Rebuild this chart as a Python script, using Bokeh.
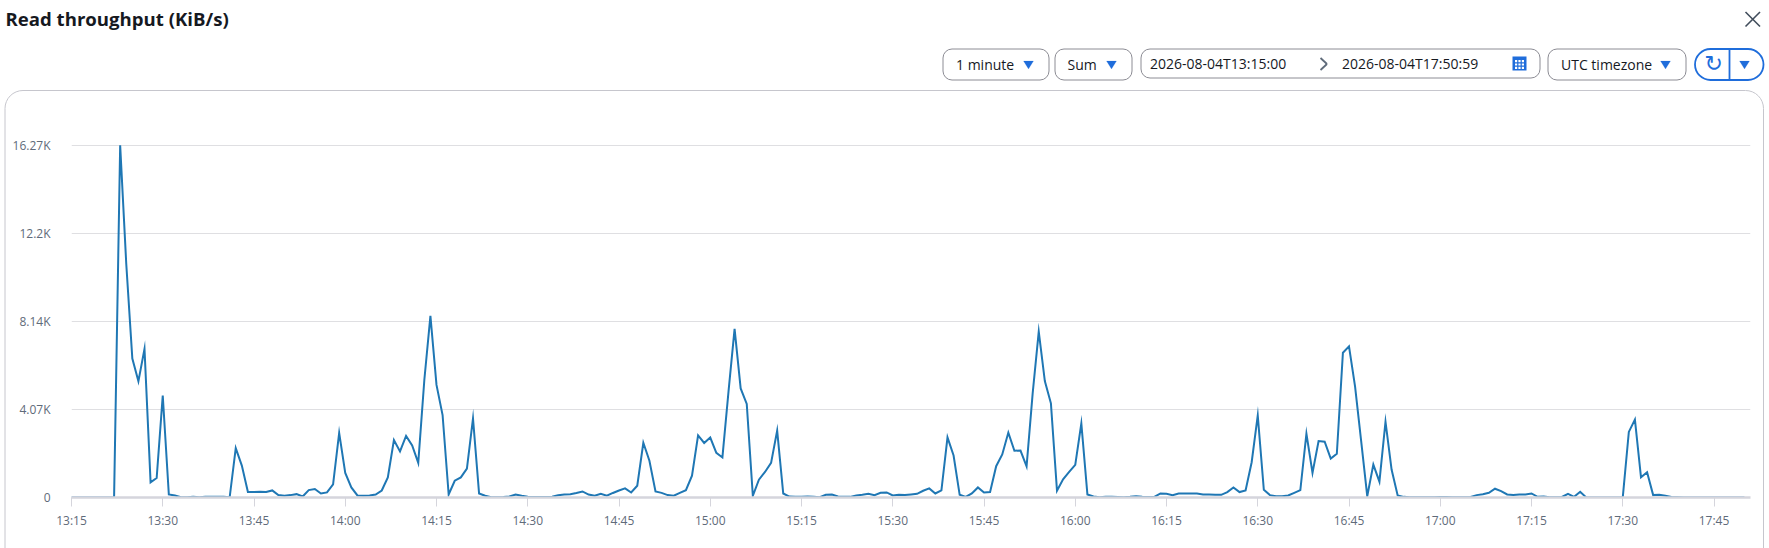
import pandas as pd
from bokeh.plotting import figure
from bokeh.embed import file_html
from bokeh.resources import INLINE
from bokeh.models import (Label, BoxAnnotation, PolyAnnotation, Arrow, FixedTicker,
                          DatetimeTickFormatter, Range1d)

TITLE = "Read throughput (KiB/s)"
START = "2026-08-04 13:15:00"
RANGE_FROM = "2026-08-04T13:15:00"
RANGE_TO = "2026-08-04T17:50:59"
Y_TICKS = [0, 4070, 8140, 12200, 16270]
Y_LABELS = ["0", "4.07K", "8.14K", "12.2K", "16.27K"]
THROUGHPUT = [
    0, 0, 0, 0, 0, 0, 0, 0, 16270, 10800, 6420, 5370, 6865, 700, 900, 4710,
    140, 90, 15, 10, 30, 10, 30, 30, 35, 30, 10, 2280, 1475, 250, 250, 265,
    250, 325, 110, 80, 110, 155, 45, 340, 390, 185, 235, 605, 2985, 1135, 465, 95,
    80, 95, 140, 325, 930, 2655, 2130, 2845, 2410, 1600, 5430, 8390, 5200, 3810, 140, 775,
    930, 1335, 3655, 185, 80, 15, 15, 20, 50, 140, 80, 40, 25, 25, 25, 40,
    105, 135, 150, 210, 280, 135, 80, 170, 80, 210, 325, 420, 230, 545, 2530, 1700,
    280, 215, 110, 80, 215, 340, 1010, 2870, 2520, 2770, 2065, 1850, 4890, 7790, 5040, 4320,
    80, 825, 1180, 1600, 3090, 185, 45, 30, 30, 45, 30, 15, 125, 140, 45, 30,
    30, 95, 125, 170, 110, 215, 235, 95, 125, 110, 140, 170, 310, 420, 185, 325,
    2780, 1940, 125, 30, 185, 465, 235, 250, 1445, 1990, 3000, 2160, 2170, 1440, 4810, 7660,
    5380, 4350, 310, 840, 1180, 1510, 3420, 140, 45, 15, 30, 30, 25, 15, 30, 60,
    30, 25, 25, 185, 170, 110, 185, 185, 185, 185, 140, 140, 125, 125, 250, 465,
    250, 325, 1630, 3790, 355, 110, 60, 60, 95, 215, 340, 2950, 1135, 2610, 2580, 1800,
    2020, 6690, 6985, 5120, 2600, 60, 1520, 730, 3500, 1290, 95, 30, 15, 15, 15, 15,
    10, 25, 25, 10, 10, 10, 25, 110, 155, 215, 405, 295, 140, 110, 140, 140,
    185, 30, 45, 15, 10, 25, 170, 30, 265, 0, 0, 0, 0, 0, 0, 0,
    3030, 3600, 930, 1165, 110, 125, 80, 25, 10, 0, 0, 0, 0, 0, 0, 0,
    0, 0, 0, 0,
]

times = pd.date_range(START, periods=len(THROUGHPUT), freq="1min")
t0 = times[0]
x_start = t0
x_end = t0 + pd.Timedelta(minutes=276)
tick_times = pd.date_range(START, periods=19, freq="15min")

W, H = 1769, 548
FRAME_L, FRAME_R, FRAME_T, FRAME_B = 71, 1750, 140, 497

y_top = (FRAME_B - FRAME_T) / 88.1 * 4070

# Page furniture: a figure whose frame is the whole canvas.
ui = figure(width=W, height=H, output_backend="svg", toolbar_location=None,
            x_range=Range1d(0, W), y_range=Range1d(H, 0),
            x_axis_location=None, y_axis_location=None, min_border=0,
            outline_line_color=None, margin=0)
ui.grid.visible = False

# The chart, laid over it with a transparent background.
p = figure(width=W, height=H, output_backend="svg", toolbar_location=None,
           x_axis_type="datetime",
           x_range=Range1d(x_start, x_end), y_range=Range1d(0, y_top),
           min_border_left=FRAME_L, min_border_right=W - FRAME_R,
           min_border_top=FRAME_T, min_border_bottom=H - FRAME_B,
           outline_line_color=None, background_fill_color=None, border_fill_color=None,
           margin=(-H, 0, 0, 0))

p.line(times, THROUGHPUT, line_color="#1f77b4", line_width=2.0, line_join="miter")

p.xgrid.visible = False
p.ygrid.grid_line_color = "#dfdfe2"
p.ygrid.grid_line_width = 1.2
p.ygrid.ticker = FixedTicker(ticks=Y_TICKS)

p.yaxis.ticker = FixedTicker(ticks=Y_TICKS)
p.yaxis.major_label_overrides = dict(zip(Y_TICKS, Y_LABELS))
p.yaxis.axis_line_color = None
p.yaxis.major_tick_line_color = None
p.yaxis.minor_tick_line_color = None
p.yaxis.major_label_standoff = 15
p.yaxis.major_label_text_font = "Open Sans"
p.yaxis.major_label_text_font_size = "12px"
p.yaxis.major_label_text_color = "#5f6b7a"

p.xaxis.ticker = FixedTicker(ticks=[t.value / 1e6 for t in tick_times])
p.xaxis.formatter = DatetimeTickFormatter(minutes="%H:%M", hours="%H:%M", days="%H:%M", minsec="%H:%M")
p.xaxis.axis_line_color = "#d5d5dc"
p.xaxis.axis_line_width = 2.4
p.xaxis.major_tick_line_color = "#d5d5dc"
p.xaxis.major_tick_line_width = 1
p.xaxis.major_tick_in = 0
p.xaxis.major_tick_out = 9
p.xaxis.minor_tick_line_color = None
p.xaxis.major_label_standoff = 5
p.xaxis.major_label_text_font = "Open Sans"
p.xaxis.major_label_text_font_size = "12px"
p.xaxis.major_label_text_color = "#5f6b7a"

BLUE = "#1f6ddb"
GREY = "#8c8c94"
DARK = "#16191f"


def box(l, r, t, b, line=GREY, radius=9, width=1.0, fill=None, level="annotation"):
    ui.add_layout(BoxAnnotation(left=l, right=r, top=t, bottom=b,
                                left_units="canvas", right_units="canvas",
                                top_units="canvas", bottom_units="canvas",
                                line_color=line, line_width=width, line_alpha=1 if line else 0,
                                fill_color=fill or "white", fill_alpha=1 if fill else 0,
                                border_radius=radius, level=level, editable=False))


def text(x, y, s, size="14px", color=DARK, style="normal", font="Open Sans"):
    ui.add_layout(Label(x=x, y=y, x_units="canvas", y_units="canvas", text=s,
                        text_font=font, text_font_size=size, text_color=color,
                        text_font_style=style, text_baseline="middle", text_align="left"))


def tri(xa, xb, ya, yb):
    ui.add_layout(PolyAnnotation(xs=[xa, xb, (xa + xb) / 2], ys=[ya, ya, yb],
                                 xs_units="canvas", ys_units="canvas",
                                 fill_color=BLUE, fill_alpha=1, line_color=BLUE, line_width=0.5))


def seg(xa, ya, xb, yb, color, width):
    ui.add_layout(Arrow(end=None, start=None, x_start=xa, y_start=ya, x_end=xb, y_end=yb,
                        start_units="canvas", end_units="canvas",
                        line_color=color, line_width=width))


# card and header
box(4.5, 1763, 90, 590, line="#c6c6cd", radius=18)
text(5, 18, TITLE, size="18.6px", style="bold", color="#16191f")
seg(1745, 11.5, 1759.5, 26, "#414d5c", 1.6)
seg(1759.5, 11.5, 1745, 26, "#414d5c", 1.6)

# controls
box(942.5, 1048.5, 48.5, 79.5)
text(955.5, 64, "1 minute")
tri(1023, 1033, 60.5, 68.5)
box(1054.5, 1131.5, 48.5, 79.5)
text(1067, 64, "Sum")
tri(1106, 1116, 60.5, 68.5)
box(1140.5, 1539.5, 48.5, 77.5)
text(1149.5, 63, RANGE_FROM)
seg(1320, 57.5, 1326.5, 63.5, "#5f6b7a", 1.8)
seg(1326.5, 63.5, 1320, 69.5, "#5f6b7a", 1.8)
text(1341.5, 63, RANGE_TO)
box(1512, 1526, 56, 70, line=None, radius=0, fill=BLUE)
for r in range(3):
    for c in range(3):
        box(1514.5 + c * 3.4, 1516.7 + c * 3.4, 59.5 + r * 3.4, 61.7 + r * 3.4,
            line=None, radius=0, fill="white")
box(1547.5, 1685.5, 48.5, 79.5)
text(1560.5, 64, "UTC timezone")
tri(1660, 1670, 60.5, 68.5)
box(1694.5, 1763, 48.5, 79.5, line=BLUE, radius=16, width=1.8)
seg(1729, 48.5, 1729, 79.5, BLUE, 1.8)
tri(1739, 1749, 60.5, 68.5)
text(1704, 63, "\u21bb", size="22px", color=BLUE, font="DejaVu Sans")

open("out.html", "w").write(file_html([ui, p], INLINE))
